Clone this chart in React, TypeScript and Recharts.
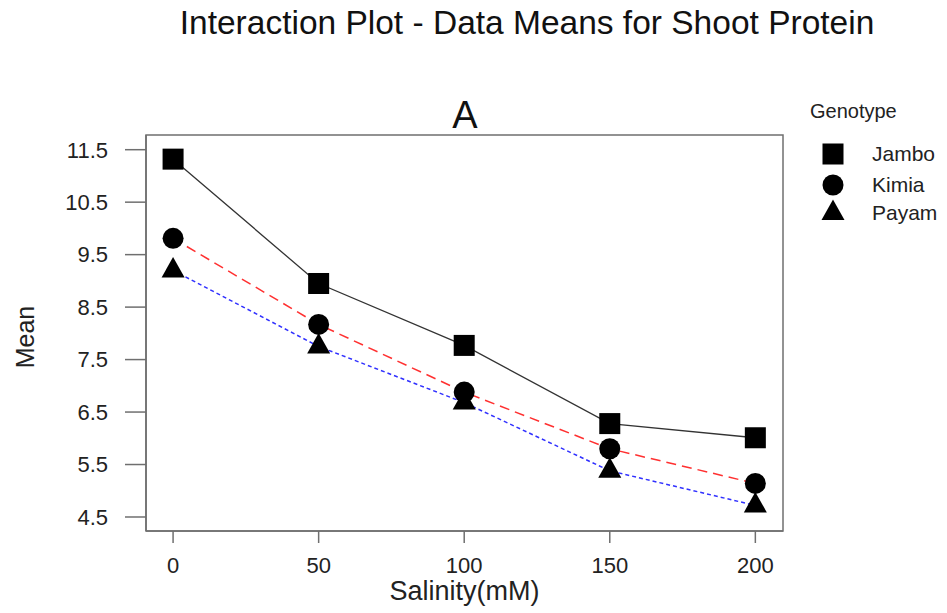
import React from 'react';
import { LineChart, Line, XAxis, YAxis } from 'recharts';

// salinity levels (mM) and genotype means
const salinity = [0, 50, 100, 150, 200];
const jambo = [11.32, 8.95, 7.77, 6.28, 6.01];
const kimia = [9.81, 8.17, 6.88, 5.8, 5.14];
const payam = [9.2, 7.75, 6.68, 5.38, 4.72];
const yTicks = [4.5, 5.5, 6.5, 7.5, 8.5, 9.5, 10.5, 11.5];
const genotypes = ['Jambo', 'Kimia', 'Payam'];

const FONT = '"Liberation Sans", Arial, Helvetica, sans-serif';
const FRAME = '#6f6f6f';

// plot box, matches the chart margins / axis sizes below
const PLOT = { left: 146, top: 135, right: 783, bottom: 531 };

const data = salinity.map((s, i) => ({
  salinity: s,
  Jambo: jambo[i],
  Kimia: kimia[i],
  Payam: payam[i],
}));

// marker shapes, centred on (cx, cy)
const Square = ({ cx, cy }: any) => (
  <rect x={cx - 10.5} y={cy - 10.5} width={21} height={21} fill="#000" />
);
const Circle = ({ cx, cy }: any) => <circle cx={cx} cy={cy} r={10.5} fill="#000" />;
const Triangle = ({ cx, cy }: any) => (
  <polygon
    points={`${cx},${cy - 13.5} ${cx - 11.5},${cy + 7} ${cx + 11.5},${cy + 7}`}
    fill="#000"
  />
);

const markers: Record<string, any> = { Jambo: Square, Kimia: Circle, Payam: Triangle };

const dotFor = (name: string) => (props: any) => {
  const M = markers[name];
  return <M key={`${name}-${props.index}`} cx={props.cx} cy={props.cy} />;
};

export default function App() {
  return (
    <div style={{ position: 'absolute', left: 0, top: 0, width: 947, height: 613, background: '#fff' }}>
      <LineChart
        width={947}
        height={613}
        data={data}
        margin={{ top: PLOT.top, right: 947 - PLOT.right, left: 0, bottom: 0 }}
        style={{ fontFamily: FONT }}
      >
        <XAxis
          dataKey="salinity"
          type="number"
          domain={[-9.3, 209.5]}
          ticks={salinity}
          height={613 - PLOT.bottom}
          tickSize={12}
          tickMargin={14}
          tick={{ fontSize: 22, fill: '#222' }}
          axisLine={{ stroke: FRAME, strokeWidth: 1.5 }}
          tickLine={{ stroke: FRAME, strokeWidth: 1.5 }}
          label={{ value: 'Salinity(mM)', position: 'insideBottom', offset: 13, fontSize: 27, fill: '#222' }}
        />
        <YAxis
          type="number"
          domain={[4.233, 11.78]}
          ticks={yTicks}
          width={PLOT.left}
          tickSize={21}
          tickMargin={17}
          tick={{ fontSize: 22, fill: '#222' }}
          axisLine={{ stroke: FRAME, strokeWidth: 1.5 }}
          tickLine={{ stroke: FRAME, strokeWidth: 1.5 }}
          label={{
            value: 'Mean',
            angle: -90,
            position: 'insideLeft',
            offset: 25,
            dy: 4,
            fontSize: 25,
            fill: '#222',
            style: { textAnchor: 'middle' },
          }}
        />
        <Line
          dataKey="Jambo"
          stroke="#333"
          strokeWidth={1.3}
          dot={dotFor('Jambo')}
          activeDot={false}
          isAnimationActive={false}
        />
        <Line
          dataKey="Kimia"
          stroke="#ff3030"
          strokeWidth={1.5}
          strokeDasharray="10 6"
          dot={dotFor('Kimia')}
          activeDot={false}
          isAnimationActive={false}
        />
        <Line
          dataKey="Payam"
          stroke="#3030ff"
          strokeWidth={1.5}
          strokeDasharray="4 3"
          dot={dotFor('Payam')}
          activeDot={false}
          isAnimationActive={false}
        />
      </LineChart>

      {/* box, titles and legend */}
      <svg
        width={947}
        height={613}
        style={{ position: 'absolute', left: 0, top: 0, pointerEvents: 'none', fontFamily: FONT }}
      >
        <rect
          x={PLOT.left}
          y={PLOT.top}
          width={PLOT.right - PLOT.left}
          height={PLOT.bottom - PLOT.top}
          fill="none"
          stroke={FRAME}
          strokeWidth={1.5}
        />
        <text x={527} y={34} textAnchor="middle" fontSize={33.5} fill="#111">
          Interaction Plot - Data Means for Shoot Protein
        </text>
        <text x={465} y={128} textAnchor="middle" fontSize={38} fill="#111">
          A
        </text>
        <text x={810} y={118} fontSize={20} fill="#222">
          Genotype
        </text>
        {genotypes.map((g, i) => {
          const M = markers[g];
          const cy = [154, 185, 213][i];
          return (
            <g key={g}>
              <M cx={833} cy={cy} />
              <text x={872} y={cy + 7} fontSize={21} fill="#222">
                {g}
              </text>
            </g>
          );
        })}
      </svg>
    </div>
  );
}
